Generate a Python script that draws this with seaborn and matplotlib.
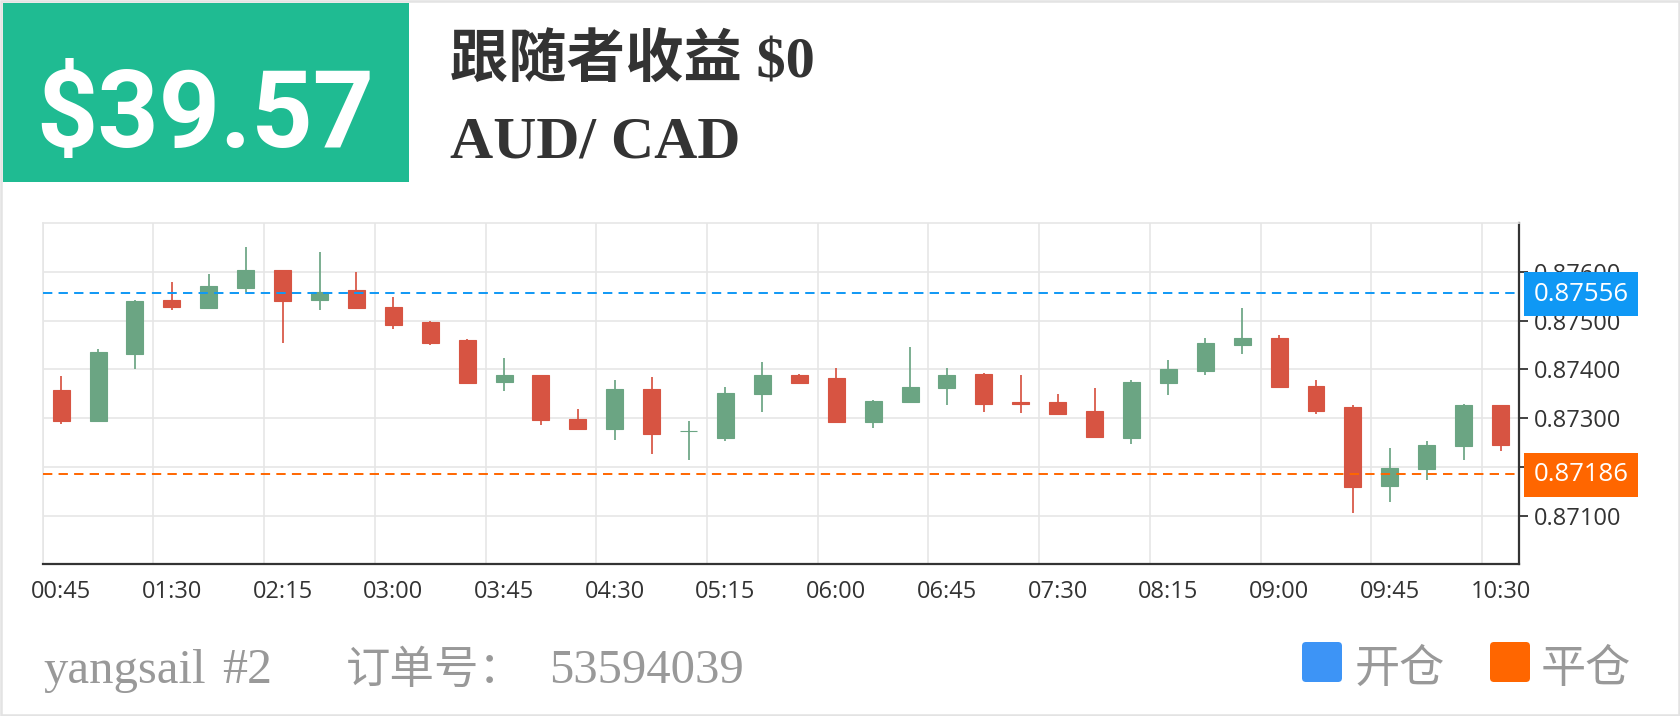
import numpy as np
import pandas as pd
import seaborn as sns
import matplotlib
matplotlib.use("Agg")
import matplotlib.pyplot as plt
from matplotlib.patches import Rectangle, FancyBboxPatch
from matplotlib.transforms import blended_transform_factory

# ---------------- data ----------------
times = ["00:45", "01:00", "01:15", "01:30", "01:45", "02:00", "02:15", "02:30",
         "02:45", "03:00", "03:15", "03:30", "03:45", "04:00", "04:15", "04:30",
         "04:45", "05:00", "05:15", "05:30", "05:45", "06:00", "06:15", "06:30",
         "06:45", "07:00", "07:15", "07:30", "07:45", "08:00", "08:15", "08:30",
         "08:45", "09:00", "09:15", "09:30", "09:45", "10:00", "10:15", "10:30"]
opens = [0.87357, 0.87295, 0.87432, 0.87543, 0.87527, 0.87568, 0.87604, 0.87543,
         0.87563, 0.87528, 0.87497, 0.87460, 0.87375, 0.87388, 0.87298, 0.87278,
         0.87360, 0.87273, 0.87259, 0.87349, 0.87388, 0.87383, 0.87292, 0.87334,
         0.87361, 0.87390, 0.87334, 0.87333, 0.87314, 0.87260, 0.87372, 0.87396,
         0.87451, 0.87465, 0.87366, 0.87323, 0.87160, 0.87196, 0.87242, 0.87327]
closes = [0.87295, 0.87436, 0.87540, 0.87529, 0.87571, 0.87604, 0.87540, 0.87558,
          0.87527, 0.87492, 0.87455, 0.87372, 0.87388, 0.87296, 0.87278, 0.87360,
          0.87268, 0.87274, 0.87352, 0.87388, 0.87373, 0.87292, 0.87335, 0.87364,
          0.87388, 0.87330, 0.87330, 0.87309, 0.87262, 0.87374, 0.87400, 0.87455,
          0.87464, 0.87364, 0.87315, 0.87158, 0.87198, 0.87245, 0.87326, 0.87245]
highs = [0.87386, 0.87442, 0.87543, 0.87580, 0.87595, 0.87652, 0.87604, 0.87642,
         0.87601, 0.87549, 0.87499, 0.87462, 0.87423, 0.87388, 0.87318, 0.87379,
         0.87384, 0.87295, 0.87364, 0.87416, 0.87390, 0.87403, 0.87338, 0.87447,
         0.87402, 0.87392, 0.87388, 0.87349, 0.87362, 0.87379, 0.87420, 0.87464,
         0.87527, 0.87470, 0.87379, 0.87328, 0.87239, 0.87253, 0.87330, 0.87327]
lows = [0.87287, 0.87294, 0.87401, 0.87522, 0.87527, 0.87558, 0.87455, 0.87523,
        0.87527, 0.87482, 0.87451, 0.87371, 0.87355, 0.87286, 0.87278, 0.87256,
        0.87227, 0.87214, 0.87253, 0.87313, 0.87373, 0.87292, 0.87280, 0.87334,
        0.87328, 0.87313, 0.87310, 0.87308, 0.87262, 0.87247, 0.87347, 0.87388,
        0.87431, 0.87361, 0.87308, 0.87106, 0.87128, 0.87173, 0.87214, 0.87233]
open_price = 0.87556
close_price = 0.87186
y_ticks = [0.871, 0.872, 0.873, 0.874, 0.875, 0.876]
profit_text = "$39.57"
title_text = "跟随者收益 $0"
symbol_text = "AUD/ CAD"
user_text = "yangsail"
user_num = "#2"
order_label = "订单号："
order_no = "53594039"
legend_labels = ["开仓", "平仓"]

UP = "#6ba583"
DOWN = "#d75442"
BLUE = "#0f98f5"
ORANGE = "#ff6600"
GRID = "#e6e6e6"
AX = "#333333"

sns.set_theme(style="white")
plt.rcParams["font.family"] = ["Open Sans", "Noto Sans CJK SC", "DejaVu Sans"]

W, H = 1680, 716
fig = plt.figure(figsize=(W / 100, H / 100), dpi=100)
fig.patch.set_facecolor("white")

# overlay in pixel coordinates
ov = fig.add_axes([0, 0, 1, 1])
ov.set_xlim(0, W)
ov.set_ylim(H, 0)
ov.axis("off")
ov.add_patch(Rectangle((1.2, 1.2), W - 2.4, H - 2.4, fill=False,
                       edgecolor="#e3e3e3", linewidth=1.8))
ov.add_patch(Rectangle((2.5, 2.5), 406, 179, facecolor="#1fbb92",
                       edgecolor="none"))
ov.text(205, 147, profit_text, ha="center", va="baseline", color="white",
        fontsize=77, fontweight="bold", family=["Roboto", "DejaVu Sans"])
ov.text(450, 78, title_text, ha="left", va="baseline", color="#333333",
        fontsize=42, fontweight="bold",
        family=["Liberation Serif", "Noto Sans CJK SC"])
ov.text(450, 157, symbol_text, ha="left", va="baseline", color="#333333",
        fontsize=43, fontweight="bold", family=["Liberation Serif"])

FOOT = "#999999"
ov.text(43, 683, user_text, ha="left", va="baseline", color=FOOT, fontsize=35,
        family=["Liberation Serif"])
ov.text(222, 683, user_num, ha="left", va="baseline", color=FOOT, fontsize=36,
        family=["Liberation Serif"])
ov.text(346, 683, order_label, ha="left", va="baseline", color=FOOT,
        fontsize=32, family=["Noto Sans CJK SC"])
ov.text(549, 683, order_no, ha="left", va="baseline", color=FOOT, fontsize=35,
        family=["Liberation Serif"])

for (x0, col, lab, tx) in [(1302, "#3d94f6", legend_labels[0], 1355),
                           (1490, ORANGE, legend_labels[1], 1541)]:
    ov.add_patch(FancyBboxPatch((x0 + 4, 646), 32, 32,
                                boxstyle="round,pad=4", facecolor=col,
                                edgecolor="none"))
    ov.text(tx, 682, lab, ha="left", va="baseline", color=FOOT, fontsize=32.5,
            family=["Noto Sans CJK SC"])

# ---------------- main chart ----------------
L, R, T, B = 42.7, 1519, 223.3, 564.3
ax = fig.add_axes([L / W, 1 - B / H, (R - L) / W, (B - T) / H])
ax.set_facecolor("none")

df = pd.DataFrame({"time": times, "open": opens, "close": closes,
                   "high": highs, "low": lows})
df["x"] = np.arange(len(df))
df["up"] = df["close"] >= df["open"]
cols = np.where(df["up"], UP, DOWN)

ax.vlines(df["x"], df["low"], df["high"], colors=cols, linewidth=1.25,
          zorder=2)
body_h = (df["close"] - df["open"]).abs().clip(lower=0.000015)
body_b = np.minimum(df["open"], df["close"])
ax.bar(df["x"], body_h, bottom=body_b, width=0.46, color=cols,
       edgecolor=cols, linewidth=0.8, zorder=3)

ax.axhline(open_price, color=BLUE, linewidth=1.4, linestyle=(0, (4.8, 3.2)),
           zorder=4)
ax.axhline(close_price, color=ORANGE, linewidth=1.4,
           linestyle=(0, (4.8, 3.2)), zorder=4)

ax.set_xlim(-0.5, len(df) - 0.5)
ax.set_ylim(0.870, 0.877)

ax.set_xticks(df["x"][::3])
ax.set_xticklabels(df["time"][::3])
ax.set_xticks(np.arange(-0.5, len(df) - 1, 3), minor=True)
ax.set_yticks(y_ticks)
ax.set_yticklabels([f"{v:.5f}" for v in y_ticks])
ax.yaxis.tick_right()

ax.grid(False)
ax.grid(which="minor", axis="x", color=GRID, linewidth=1.2, zorder=0)
ax.grid(which="major", axis="y", color=GRID, linewidth=1.2, zorder=0)
ax.set_axisbelow(True)

for s in ["top", "left"]:
    ax.spines[s].set_color(GRID)
    ax.spines[s].set_linewidth(1.2)
for s in ["right", "bottom"]:
    ax.spines[s].set_color(AX)
    ax.spines[s].set_linewidth(1.6)

ax.tick_params(axis="both", which="major", direction="out", length=6.5,
               width=1.3, color=AX, labelcolor=AX, labelsize=17, pad=4.5)
ax.tick_params(axis="x", which="minor", length=0)
ax.tick_params(axis="y", which="major", left=False, right=True,
               labelleft=False, labelright=True)

# price labels on the right
tr = blended_transform_factory(ax.transAxes, ax.transData)
px_per_unit = (B - T) / 0.007
box_h = 44 / px_per_unit
x0 = (1524 - L) / (R - L)
bw = (1638 - 1524) / (R - L)
for price, col in [(open_price, BLUE), (close_price, ORANGE)]:
    ax.add_patch(Rectangle((x0, price - box_h / 2 - 1 / px_per_unit), bw,
                           box_h, transform=tr, facecolor=col,
                           edgecolor="none", clip_on=False, zorder=6))
    ax.text(x0 + bw / 2, price - 1 / px_per_unit, f"{price:.5f}",
            transform=tr, ha="center", va="center", color="white",
            fontsize=18.5, zorder=7, clip_on=False)

fig.savefig("out.png", dpi=100, facecolor="white")
